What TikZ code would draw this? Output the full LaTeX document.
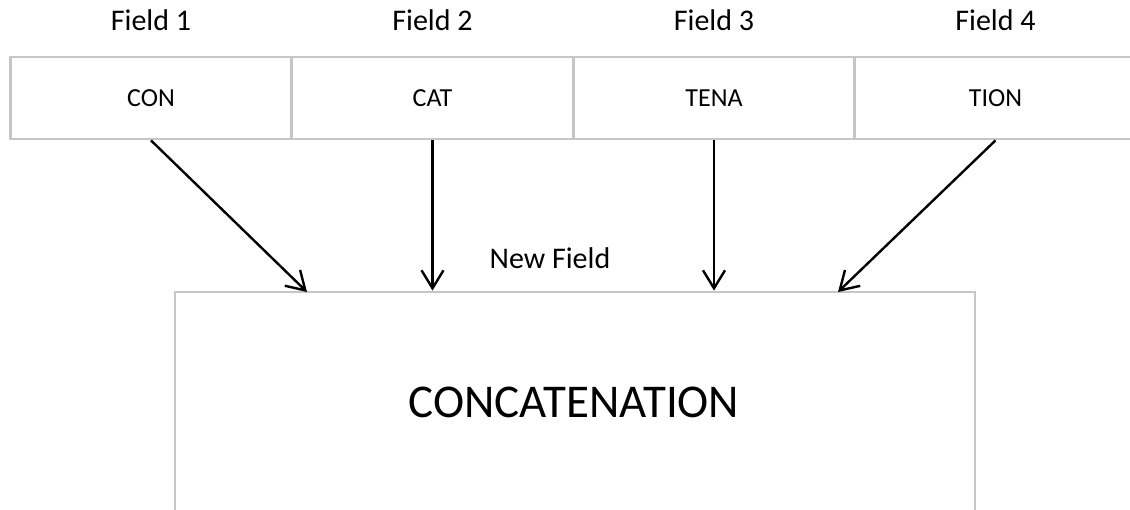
\documentclass[tikz,border=0pt]{standalone}
\usepackage{fontspec}
\setmainfont{Carlito}
\usetikzlibrary{arrows.meta,positioning}
\definecolor{boxgray}{RGB}{198,198,198}
\tikzset{
  field/.style={draw=boxgray, line width=1.4pt, minimum width=140.75pt,
    minimum height=41pt, inner sep=0pt, font=\fontsize{13}{15}\selectfont},
  bigbox/.style={draw=boxgray, line width=1.4pt, minimum width=400pt,
    minimum height=300pt, inner sep=0pt},
  lbl/.style={inner sep=0pt, font=\fontsize{15}{18}\selectfont},
  feed/.style={line width=1.2pt, -{Straight Barb[length=9pt,width=11pt]}}
}
\begin{document}
\begin{tikzpicture}[x=0.5pt,y=-0.5pt]
  \useasboundingbox (0,0) rectangle (1130,509);
  \clip (0,0) rectangle (1130,509);
  % source fields
  \node[field] (f1) at (151,98) {CON};
  \node[field] (f2) at (432.5,98) {CAT};
  \node[field] (f3) at (714,98) {TENA};
  \node[field] (f4) at (995.5,98) {TION};
  \node[lbl, above=12pt of f1] (l1) {Field 1};
  \node[lbl, above=12pt of f2] (l2) {Field 2};
  \node[lbl, above=12pt of f3] (l3) {Field 3};
  \node[lbl, above=12pt of f4] (l4) {Field 4};
  % new field
  \node[bigbox] (nf) at (575,592) {};
  \node[lbl, anchor=base] (nflbl) at (550,268) {New Field};
  \node[anchor=base, inner sep=0pt, font=\fontsize{23.5}{28}\selectfont]
    (cc) at (574,417) {CONCATENATION};
  \coordinate (t1) at (307,292);
  \coordinate (t4) at (838,292);
  \begin{scope}[feed]
    \draw (f1.south) -- (t1);
    \draw (f2.south) -- (f2.south |- nf.north);
    \draw (f3.south) -- (f3.south |- nf.north);
    \draw (f4.south) -- (t4);
  \end{scope}
\end{tikzpicture}
\end{document}
